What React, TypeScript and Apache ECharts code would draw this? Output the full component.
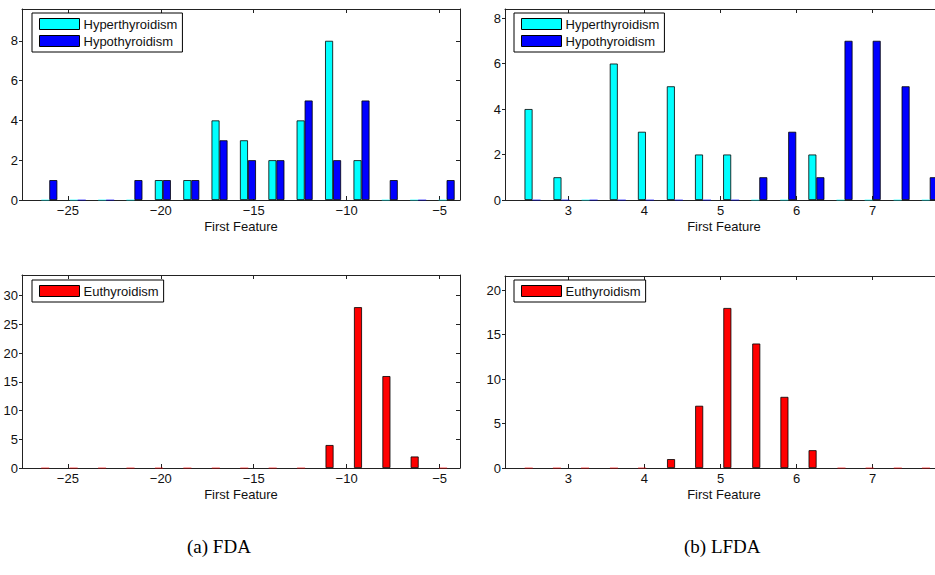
import React, { useEffect, useRef } from "react";
import * as echarts from "echarts";

// ---- data ----
const fdaPairBins = [-26.0, -24.47, -22.94, -21.42, -19.89, -18.36, -16.84, -15.31, -13.78, -12.26, -10.73, -9.2, -7.68, -6.15, -4.62];
const fdaHyper = [0, 0, 0, 0, 1, 1, 4, 3, 2, 4, 8, 2, 0, 0, 0];
const fdaHypo = [1, 0, 0, 1, 1, 1, 3, 2, 2, 5, 2, 5, 1, 0, 1];
const fdaEuBins = [-26.22, -24.69, -23.16, -21.63, -20.1, -18.57, -17.04, -15.51, -13.98, -12.45, -10.92, -9.39, -7.86, -6.34, -4.81];
const fdaEu = [0, 0, 0, 0, 0, 0, 0, 0, 0, 0, 4, 28, 16, 2, 0];

const lfdaPairBins = [2.53, 2.91, 3.28, 3.65, 4.02, 4.4, 4.77, 5.14, 5.51, 5.89, 6.26, 6.63, 7.0, 7.38, 7.75];
const lfdaHyper = [4, 1, 0, 6, 3, 5, 2, 2, 0, 0, 2, 0, 0, 0, 0];
const lfdaHypo = [0, 0, 0, 0, 0, 0, 0, 0, 1, 3, 1, 7, 7, 5, 1];
const lfdaEuBins = [2.48, 2.85, 3.22, 3.6, 3.97, 4.35, 4.72, 5.09, 5.47, 5.84, 6.21, 6.59, 6.96, 7.33, 7.7];
const lfdaEu = [0, 0, 0, 0, 0, 1, 7, 18, 14, 8, 2, 0, 0, 0, 0];

const fdaXTicks = [-25, -20, -15, -10, -5];
const lfdaXTicks = [3, 4, 5, 6, 7];
const topLeftYTicks = [0, 2, 4, 6, 8];
const topRightYTicks = [0, 2, 4, 6, 8];
const bottomLeftYTicks = [0, 5, 10, 15, 20, 25, 30];
const bottomRightYTicks = [0, 5, 10, 15, 20];

const xTitle = "First Feature";
const captions = ["(a) FDA", "(b) LFDA"];
const names = { hyper: "Hyperthyroidism", hypo: "Hypothyroidism", eu: "Euthyroidism" };

// ---- layout / style ----
const FONT = "'Liberation Sans', Arial, Helvetica, sans-serif";
const SERIF = "'Liberation Serif', 'Times New Roman', serif";
const AX = "#222";
const TXT = "#111";

const panels = [
  { grid: { left: 22, top: 9, width: 438, height: 191 }, xMin: -27.47, xMax: -3.9, yMax: 9.6, xTicks: fdaXTicks, yTicks: topLeftYTicks },
  { grid: { left: 505, top: 9, width: 438, height: 191 }, xMin: 2.168, xMax: 7.924, yMax: 8.4, xTicks: lfdaXTicks, yTicks: topRightYTicks },
  { grid: { left: 22, top: 275, width: 438, height: 193 }, xMin: -27.47, xMax: -3.9, yMax: 33.6, xTicks: fdaXTicks, yTicks: bottomLeftYTicks },
  { grid: { left: 505, top: 276, width: 438, height: 192 }, xMin: 2.168, xMax: 7.924, yMax: 21.6, xTicks: lfdaXTicks, yTicks: bottomRightYTicks },
];

const fmt = (v: number) => String(v).replace("-", "\u2212");

function barSeries(name: string, idx: number, bins: number[], vals: number[], color: string) {
  return {
    type: "bar",
    name,
    xAxisIndex: idx,
    yAxisIndex: idx,
    data: bins.map((b, k) =>
      vals[k] === 0
        ? { value: [b, vals[k]], itemStyle: { borderColor: color, borderWidth: 0.6, opacity: 0.6 } }
        : { value: [b, vals[k]] }
    ),
    barWidth: 8,
    barGap: "0%",
    itemStyle: { color, borderColor: "#000", borderWidth: 0.8 },
    emphasis: { disabled: true },
  };
}

function legendAt(left: number, top: number, data: string[]) {
  return {
    orient: "vertical",
    left,
    top,
    data,
    icon: "rect",
    itemWidth: 40,
    itemHeight: 11,
    itemGap: 3,
    padding: [4, 5, 4, 7],
    borderColor: "#000",
    borderWidth: 1,
    backgroundColor: "#fff",
    selectedMode: false,
    itemStyle: { borderColor: "#000", borderWidth: 1 },
    textStyle: { fontSize: 13, fontFamily: FONT, color: TXT, lineHeight: 14, padding: [0, 0, 0, -1] },
  };
}

export default function App() {
  const ref = useRef<HTMLDivElement>(null);
  useEffect(() => {
    if (!ref.current) return;
    const chart = echarts.init(ref.current, undefined, { renderer: "svg" });
    const lineStyle = { color: AX, width: 1 };
    const xAxes: any[] = [];
    const yAxes: any[] = [];
    panels.forEach((p, i) => {
      xAxes.push({
        type: "value",
        gridIndex: i,
        position: "bottom",
        min: p.xMin,
        max: p.xMax,
        axisLine: { show: true, onZero: false, lineStyle },
        axisTick: { show: true, inside: true, length: 4, customValues: p.xTicks, lineStyle },
        axisLabel: { show: true, customValues: p.xTicks, formatter: fmt, margin: 4, fontSize: 13, fontFamily: FONT, color: TXT },
        splitLine: { show: false },
        name: xTitle,
        nameLocation: "middle",
        nameGap: 20,
        nameTextStyle: { fontSize: 13, fontFamily: FONT, color: TXT },
      });
      yAxes.push({
        type: "value",
        gridIndex: i,
        position: "left",
        min: 0,
        max: p.yMax,
        axisLine: { show: true, onZero: false, lineStyle },
        axisTick: { show: true, inside: false, length: 3, customValues: p.yTicks, lineStyle },
        axisLabel: { show: true, customValues: p.yTicks, margin: 4, fontSize: 13, fontFamily: FONT, color: TXT },
        splitLine: { show: false },
      });
    });
    panels.forEach((p, i) => {
      xAxes.push({
        type: "value",
        gridIndex: i,
        position: "top",
        min: p.xMin,
        max: p.xMax,
        axisLine: { show: true, onZero: false, lineStyle },
        axisTick: { show: true, inside: true, length: 4, customValues: p.xTicks, lineStyle },
        axisLabel: { show: false },
        splitLine: { show: false },
      });
      yAxes.push({
        type: "value",
        gridIndex: i,
        position: "right",
        min: 0,
        max: p.yMax,
        axisLine: { show: true, onZero: false, lineStyle },
        axisTick: { show: true, inside: true, length: 4, customValues: p.yTicks, lineStyle },
        axisLabel: { show: false },
        splitLine: { show: false },
      });
    });

    const option: any = {
      animation: false,
      backgroundColor: "#fff",
      grid: panels.map((p) => ({ ...p.grid })),
      xAxis: xAxes,
      yAxis: yAxes,
      legend: [
        legendAt(32, 13, [names.hyper, names.hypo]),
        legendAt(514, 13, [names.hyper, names.hypo]),
        legendAt(32, 280, [names.eu]),
        legendAt(514, 280, [names.eu]),
      ],
      series: [
        barSeries(names.hyper, 0, fdaPairBins, fdaHyper, "#00FFFF"),
        barSeries(names.hypo, 0, fdaPairBins, fdaHypo, "#0000FF"),
        barSeries(names.hyper, 1, lfdaPairBins, lfdaHyper, "#00FFFF"),
        barSeries(names.hypo, 1, lfdaPairBins, lfdaHypo, "#0000FF"),
        barSeries(names.eu, 2, fdaEuBins, fdaEu, "#FF0000"),
        barSeries(names.eu, 3, lfdaEuBins, lfdaEu, "#FF0000"),
      ],
      graphic: [
        { type: "text", left: 187, top: 537, style: { text: captions[0], fontSize: 19, fontFamily: SERIF, fill: "#000" } },
        { type: "text", left: 684, top: 537, style: { text: captions[1], fontSize: 19, fontFamily: SERIF, fill: "#000" } },
      ],
    };
    chart.setOption(option);
    return () => chart.dispose();
  }, []);
  return (
    <div style={{ position: "absolute", left: 0, top: 0, width: 935, height: 575, overflow: "hidden", background: "#fff" }}>
      <div ref={ref} style={{ width: 950, height: 575 }} />
    </div>
  );
}
